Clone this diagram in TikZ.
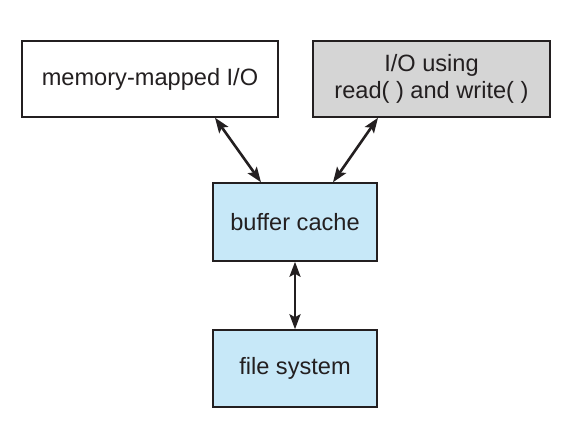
\documentclass[tikz,border=0pt]{standalone}
\usepackage{fontspec}
\setmainfont{Liberation Sans}
\usepackage{tikz}
\usetikzlibrary{arrows.meta, positioning, calc}

\definecolor{cacheblue}{HTML}{C7E8F8}
\definecolor{iogray}{HTML}{D5D5D5}
\definecolor{inkdark}{HTML}{231F20}

\tikzset{
	layerbox/.style={draw=inkdark, line width=0.75pt, text=inkdark, inner sep=0pt,
		align=center, font=\fontsize{11.8}{13.5}\selectfont},
	linkarrow/.style={{Stealth[length=7.5pt,width=5.5pt,inset=1.5pt]}-{Stealth[length=7.5pt,width=5.5pt,inset=1.5pt]}, line width=1.3pt, inkdark}
}

\begin{document}
\begin{tikzpicture}[x=0.5pt, y=-0.5pt]
				\useasboundingbox (0,0) rectangle (583,436);
				% top row
				\node[layerbox, fill=white, minimum width=128pt, minimum height=38pt] (mmio) at (150,79) {memory-mapped I/O};
				\node[layerbox, fill=iogray, minimum width=118.5pt, minimum height=38pt] (rwio) at (431.5,79) {I/O using\\read( ) and write( )};
				% lower layers
				\node[layerbox, fill=cacheblue, minimum width=82pt, minimum height=39pt] (cache) at (295,222) {buffer cache};
				\node[layerbox, fill=cacheblue, minimum width=82pt, minimum height=38.5pt] (fs) at (295,368.5) {file system};
				% links
				\draw[linkarrow] (215,0 |- mmio.south) -- (261,0 |- cache.north);
				\draw[linkarrow] (378,0 |- rwio.south) -- (333,0 |- cache.north);
				\draw[linkarrow] (cache.south) -- (fs.north);
			\end{tikzpicture}
\end{document}
